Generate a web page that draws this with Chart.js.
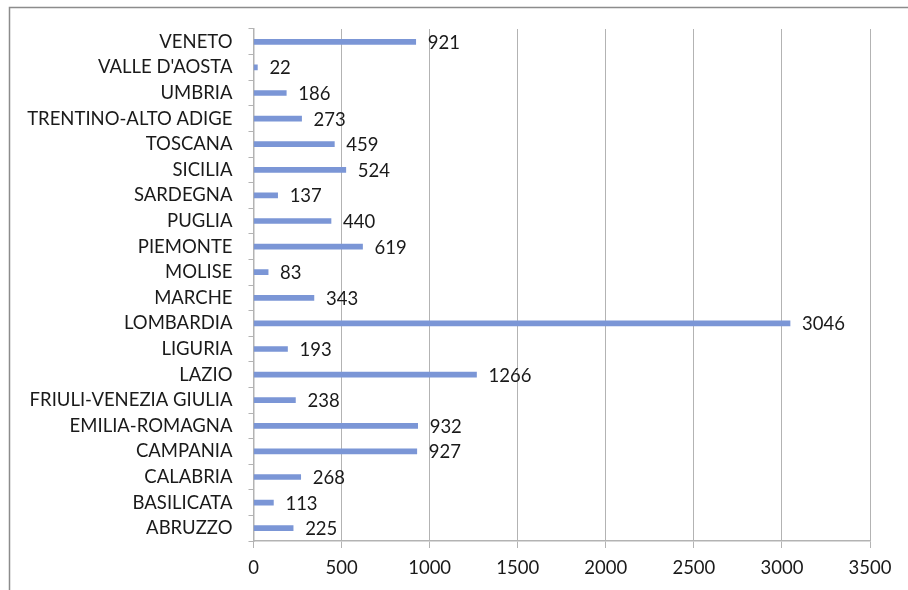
<!DOCTYPE html>
<html>
<head>
<meta charset="utf-8">
<script src="https://cdn.jsdelivr.net/npm/chart.js@4/dist/chart.umd.min.js"></script>
<style>
  html, body { margin: 0; padding: 0; background: #fff; }
  #wrap { position: relative; width: 908px; height: 590px; }
</style>
</head>
<body>
<div id="wrap"><canvas id="c" width="908" height="590"></canvas></div>
<script>
// Regions, listed top to bottom as drawn
const regions = [
  "VENETO", "VALLE D'AOSTA", "UMBRIA", "TRENTINO-ALTO ADIGE", "TOSCANA",
  "SICILIA", "SARDEGNA", "PUGLIA", "PIEMONTE", "MOLISE", "MARCHE",
  "LOMBARDIA", "LIGURIA", "LAZIO", "FRIULI-VENEZIA GIULIA",
  "EMILIA-ROMAGNA", "CAMPANIA", "CALABRIA", "BASILICATA", "ABRUZZO"
];
const counts = [
  921, 22, 186, 273, 459,
  524, 137, 440, 619, 83, 343,
  3046, 193, 1266, 238,
  932, 927, 268, 113, 225
];
const xTicks = [0, 500, 1000, 1500, 2000, 2500, 3000, 3500];

const FONT = "Lato, 'Open Sans', sans-serif";
const FONT_SIZE = 18.5;
const TEXT = '#1a1a1a';
const GRID = '#b3b3b3';

// Outer frame lines (top and left)
const framePlugin = {
  id: 'frame',
  beforeDraw(chart) {
    const ctx = chart.ctx;
    ctx.save();
    ctx.strokeStyle = '#8c8c8c';
    ctx.lineWidth = 1.5;
    ctx.beginPath();
    ctx.moveTo(9.5, chart.height);
    ctx.lineTo(9.5, 7.5);
    ctx.lineTo(chart.width, 7.5);
    ctx.stroke();
    ctx.restore();
  }
};

// Value labels to the right of each bar
const valueLabels = {
  id: 'valueLabels',
  afterDatasetsDraw(chart) {
    const ctx = chart.ctx;
    const meta = chart.getDatasetMeta(0);
    ctx.save();
    ctx.font = FONT_SIZE + 'px ' + FONT;
    ctx.fillStyle = TEXT;
    ctx.textAlign = 'left';
    ctx.textBaseline = 'middle';
    meta.data.forEach((bar, i) => {
      ctx.fillText(String(counts[i]), bar.x + 12, bar.y + 1);
    });
    ctx.restore();
  }
};

new Chart(document.getElementById('c'), {
  type: 'bar',
  data: {
    labels: regions,
    datasets: [{
      data: counts,
      backgroundColor: '#7b96d6',
      borderWidth: 0,
      barThickness: 5
    }]
  },
  options: {
    indexAxis: 'y',
    responsive: false,
    animation: false,
    layout: { padding: { top: 29, right: 38, left: 0, bottom: 0 } },
    plugins: { legend: { display: false }, tooltip: { enabled: false } },
    scales: {
      x: {
        min: 0,
        max: 3500,
        afterBuildTicks(scale) { scale.ticks = xTicks.map(v => ({ value: v })); },
        afterFit(scale) { scale.height = 49; },
        grid: { color: GRID, lineWidth: 1, tickLength: 7, drawOnChartArea: true },
        border: { color: GRID, width: 1.5 },
        ticks: {
          color: TEXT, font: { family: FONT, size: FONT_SIZE }, padding: 9, maxRotation: 0,
          callback: v => String(v)
        }
      },
      y: {
        afterFit(scale) { scale.width = 253.5; },
        grid: { color: GRID, drawOnChartArea: false, tickLength: 5, offset: true },
        border: { color: GRID, width: 1.5 },
        ticks: { color: TEXT, font: { family: FONT, size: FONT_SIZE }, padding: 16, autoSkip: false }
      }
    }
  },
  plugins: [framePlugin, valueLabels]
});
</script>
</body>
</html>
